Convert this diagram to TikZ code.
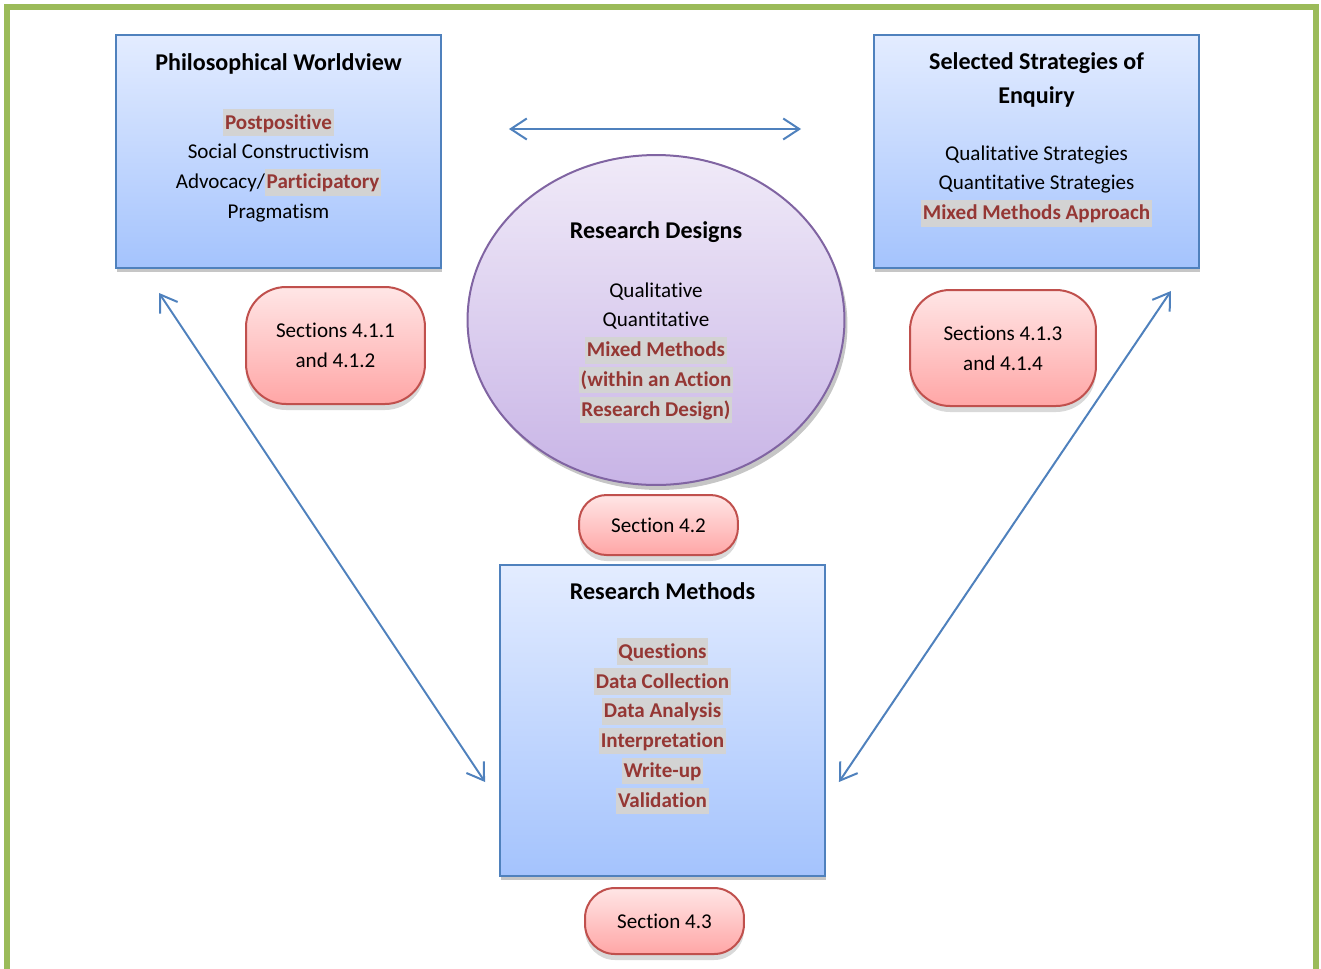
\documentclass[tikz,border=0pt]{standalone}
\usepackage{fontspec}
\setmainfont{Carlito}[Ligatures=NoCommon]
\usepackage{xcolor}
\usepackage{tikz}
\usetikzlibrary{arrows.meta,shapes.geometric,shadows,positioning}

\definecolor{frameg}{HTML}{9BBB59}
\definecolor{boxline}{HTML}{4F81BD}
\definecolor{boxtop}{HTML}{E3ECFF}
\definecolor{boxbot}{HTML}{A4C3FD}
\definecolor{ellline}{HTML}{8064A2}
\definecolor{elltop}{HTML}{F0EAF8}
\definecolor{ellbot}{HTML}{C8B4E6}
\definecolor{pillline}{HTML}{C0504D}
\definecolor{pilltop}{HTML}{FFE6E6}
\definecolor{pillbot}{HTML}{FFA6A6}
\definecolor{hlred}{HTML}{953734}
\definecolor{hlgray}{HTML}{D3D3D3}
\newcommand{\hlt}[1]{{\setlength{\fboxsep}{0pt}\colorbox{hlgray}{\rule[-3.8pt]{0pt}{15pt}\hspace{1pt}\textcolor{hlred}{\textbf{#1}}\hspace{1pt}}}}
\newcommand{\ttl}[1]{{\fontsize{13.7}{17}\selectfont\textbf{#1}}}

\begin{document}
\begin{tikzpicture}[x=0.02cm,y=-0.02cm,
box/.style={draw=boxline,line width=0.04cm,top color=boxtop,bottom color=boxbot,minimum width=6.5cm,inner sep=0pt,
 drop shadow={shadow xshift=0.02cm,shadow yshift=-0.08cm,opacity=0.45}},
design/.style={ellipse,draw=ellline,line width=0.04cm,top color=elltop,bottom color=ellbot,minimum width=7.54cm,minimum height=6.6cm,inner sep=0pt,
 drop shadow={shadow xshift=0.06cm,shadow yshift=-0.1cm,opacity=0.45}},
pill/.style={draw=pillline,line width=0.04cm,top color=pilltop,bottom color=pillbot,align=center,inner sep=0pt,
 font=\fontsize{12}{17}\selectfont,drop shadow={shadow xshift=0pt,shadow yshift=-0.12cm,opacity=0.3}},
boxtxt/.style={align=center,inner sep=0pt,anchor=north,font=\fontsize{12}{17}\selectfont},
link/.style={draw=boxline,line width=0.04cm,{Straight Barb[length=0.32cm,width=0.42cm]}-{Straight Barb[length=0.32cm,width=0.42cm]}}]
\useasboundingbox (0,0) rectangle (1321,968);
\draw[frameg,line width=0.11cm] (7,7) rectangle (1316,1000);

% the three boxes and the ellipse
\node[box,minimum height=4.66cm] (philo) at (278.5,151.5) {};
\node[boxtxt] (philotxt) at ([yshift=-0.38cm]philo.north) {\ttl{Philosophical Worldview}\\[16.5pt]\hlt{Postpositive}\\Social Constructivism\\Advocacy/\hlt{Participatory}\\Pragmatism};
\node[box,minimum height=4.66cm] (strat) at (1036.5,151.5) {};
\node[boxtxt] (strattxt) at ([yshift=-0.36cm]strat.north) {\ttl{Selected Strategies of}\\[2.3pt]\ttl{Enquiry}\\[15.4pt]Qualitative Strategies\\Quantitative Strategies\\\hlt{Mixed Methods Approach}};
\node[design] (rdes) at (656,320) {};
\node[boxtxt] (rdestxt) at ([yshift=-1.34cm]rdes.north) {\ttl{Research Designs}\\[16.5pt]Qualitative\\Quantitative\\\hlt{Mixed Methods}\\\hlt{(within an Action}\\\hlt{Research Design)}};
\node[box,minimum height=6.22cm] (meth) at (662.5,720.5) {};
\node[boxtxt] (methtxt) at ([yshift=-0.36cm]meth.north) {\ttl{Research Methods}\\[16.5pt]\hlt{Questions}\\\hlt{Data Collection}\\\hlt{Data Analysis}\\\hlt{Interpretation}\\\hlt{Write-up}\\\hlt{Validation}};

% section labels
\node[pill,minimum width=3.58cm,minimum height=2.34cm,rounded corners=0.8cm] (sec1) at (335.5,345.5) {Sections 4.1.1\\and 4.1.2};
\node[pill,minimum width=3.72cm,minimum height=2.32cm,rounded corners=0.8cm] (sec2) at (1003,348) {Sections 4.1.3\\and 4.1.4};
\node[pill,minimum width=3.18cm,minimum height=1.2cm,rounded corners=0.55cm] (sec3) at (658.5,525) {Section 4.2};
\node[pill,minimum width=3.18cm,minimum height=1.32cm,rounded corners=0.6cm] (sec4) at (664.5,921) {Section 4.3};

% arrows
\coordinate (hl) at ([xshift=1.34cm,yshift=0.45cm]philo.east);
\coordinate (hr) at ([xshift=-1.44cm,yshift=0.45cm]strat.west);
\coordinate (ls) at ([xshift=0.88cm,yshift=-0.48cm]philo.south west);
\coordinate (le) at ([xshift=-0.28cm,yshift=-1.23cm]meth.west);
\coordinate (rs) at ([xshift=-0.58cm,yshift=-0.44cm]strat.south east);
\coordinate (re) at ([xshift=0.26cm,yshift=-1.23cm]meth.east);
\draw[link] (hl)--(hr);
\draw[link] (ls)--(le);
\draw[link] (rs)--(re);
\end{tikzpicture}
\end{document}
